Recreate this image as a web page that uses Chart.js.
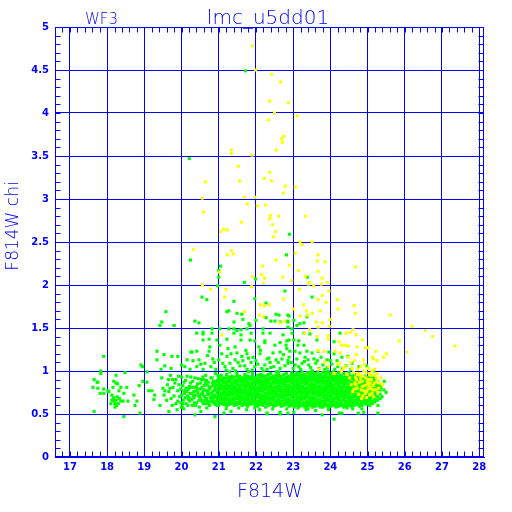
<!DOCTYPE html>
<html><head><meta charset="utf-8">
<script src="https://cdn.jsdelivr.net/npm/chart.js@4.4.0/dist/chart.umd.min.js"></script>
<style>html,body{margin:0;padding:0;background:#fff;}canvas{display:block;}</style>
</head><body>
<canvas id="c" width="512" height="512"></canvas>
<script>
// ---------- texts ----------
const titleText = "lmc_u5dd01";
const chipText = "WF3";
const xTitle = "F814W";
const yTitle = "F814W chi";

// ---------- ticks ----------
const xTicks = [17,18,19,20,21,22,23,24,25,26,27,28];
const xTickLabels = ["17","18","19","20","21","22","23","24","25","26","27","28"];
const yTicks = [0,0.5,1,1.5,2,2.5,3,3.5,4,4.5,5];
const yTickLabels = ["0","0.5","1","1.5","2","2.5","3","3.5","4","4.5","5"];

// ---------- data: dense green band, columns (x) with y values in hundredths ----------
const greenCoreX = [21.00,21.07,21.14,21.21,21.28,21.35,21.42,21.49,21.56,21.63,21.70,21.77,21.84,21.91,21.98,
22.05,22.12,22.19,22.26,22.33,22.40,22.47,22.54,22.61,22.68,22.75,22.82,22.89,22.96,
23.03,23.10,23.17,23.24,23.31,23.38,23.45,23.52,23.59,23.66,23.73,23.80,23.87,23.94,24.01,24.08,24.15,24.22,24.29,24.36,24.43,24.50,
24.57,24.64,24.71,24.78,24.85,24.92,24.99,25.06,25.13,25.20,25.27,25.34];
const greenCoreY = [
"60 63 67 70 73 77 80 83 86 90 93","62 65 68 71 74 78 81 84 88 91 95","61 64 67 70 73 76 79 82 86 89 92",
"59 62 66 69 72 75 79 82 85 88 92 96","61 64 67 71 74 77 80 83 87 90 93","62 65 68 72 75 78 81 84 87 91 94",
"60 63 66 69 73 76 79 82 86 89 93","61 64 68 71 74 77 80 84 87 90 94 97","62 65 68 71 75 78 81 84 88 91 94",
"60 63 67 70 73 76 79 83 86 89 92","61 64 67 70 74 77 80 83 87 90 93 96","59 62 66 69 72 75 78 82 85 88 91 94",
"61 64 67 71 74 77 80 83 86 90 93","62 65 68 71 74 78 81 84 87 91 94 97","60 63 66 70 73 76 79 82 86 89 92",
"59 62 65 69 72 75 78 81 85 88 91 95","61 64 67 70 73 77 80 83 86 89 93 96","60 63 66 69 72 76 79 82 85 88 92 95",
"58 62 65 68 71 74 78 81 84 87 90 94","60 63 67 70 73 76 79 82 86 89 92 96","61 64 67 70 74 77 80 83 86 90 93 97",
"59 62 66 69 72 75 78 81 85 88 91 94","60 63 66 70 73 76 79 82 86 89 92 95","61 64 67 70 73 77 80 83 86 89 93 96 99",
"59 62 65 69 72 75 78 81 85 88 91 94","60 63 67 70 73 76 79 83 86 89 92 96","61 64 67 71 74 77 80 83 87 90 93 97",
"59 62 65 68 72 75 78 81 84 88 91 94","60 63 66 70 73 76 79 82 86 89 92 95 98",
"58 61 64 67 71 74 77 80 83 87 90 93 96","60 63 66 69 72 75 79 82 85 88 91 95 98","59 62 65 68 71 75 78 81 84 87 91 94 97",
"60 63 67 70 73 76 79 82 86 89 92 95 99","58 61 64 68 71 74 77 80 84 87 90 93 96","59 62 65 69 72 75 78 81 85 88 91 94 98",
"60 63 66 69 73 76 79 82 85 89 92 95 98","58 61 64 67 70 74 77 80 83 86 90 93 96 100","59 62 65 68 72 75 78 81 84 88 91 94 97",
"60 63 66 70 73 76 79 82 86 89 92 95 99","58 61 64 67 71 74 77 80 83 87 90 93 96","59 62 65 69 72 75 78 81 85 88 91 94 98",
"60 63 66 69 72 76 79 82 85 88 92 95 98","58 61 65 68 71 74 77 81 84 87 90 93 97 100","59 62 65 68 72 75 78 81 84 88 91 94 97",
"60 63 66 69 73 76 79 82 85 89 92 95 99","58 61 64 68 71 74 77 80 84 87 90 93 96","59 62 66 69 72 75 78 82 85 88 91 94 98",
"60 63 66 70 73 76 79 82 86 89 92 95","58 61 65 68 71 74 77 81 84 87 90 93 97","59 62 65 69 72 75 78 81 85 88 91 94",
"60 63 66 69 73 76 79 82 85 89 92 95 98",
"59 62 65 68 71 75 78 81 84 87 91 94","60 63 66 70 73 76 79 82 86 89 92 95","61 64 67 70 73 77 80 83 86 89 93 96",
"59 62 66 69 72 75 78 82 85 88 91 94","60 63 66 69 73 76 79 82 85 89 92","62 65 68 71 74 78 81 84 87 90 94",
"61 64 67 70 74 77 80 83 86 90 93","63 66 69 72 76 79 82 85 88 92","62 65 69 72 75 78 81 85 88 91",
"64 67 71 74 77 80 84 87 90","66 70 75 79 83 88","68 73 78 84"];

// ---------- data: scattered green stars [mag, chi] ----------
const greenSparse = [
[17.91,1.17],[17.83,1.00],[17.83,0.97],[18.24,0.95],[18.48,0.98],[18.91,1.07],[18.95,1.05],[19.34,1.23],[19.34,1.13],[19.53,1.19],
[19.74,1.17],[19.90,1.17],[20.00,1.07],[19.55,1.06],[19.45,1.02],[19.72,1.03],[19.07,0.99],[18.96,0.88],[19.07,0.87],[17.65,0.90],
[17.75,0.87],[17.62,0.81],[17.75,0.80],[17.91,0.79],[17.81,0.74],[17.91,0.74],[18.02,0.77],[18.05,0.76],[18.18,0.88],[18.24,0.86],
[18.28,0.85],[18.16,0.81],[18.37,0.81],[18.53,0.81],[18.32,0.77],[18.45,0.74],[18.13,0.72],[18.16,0.67],[18.24,0.66],[18.37,0.65],
[18.43,0.65],[18.56,0.65],[18.21,0.62],[18.10,0.62],[18.21,0.58],[18.72,0.72],[18.80,0.65],[18.75,0.60],[17.65,0.53],[18.45,0.47],
[18.88,0.51],[18.86,0.83],[19.12,0.77],[19.20,0.77],[19.26,0.67],[19.28,0.72],[19.42,0.60],[19.47,0.92],[19.50,0.80],[19.55,0.77],
[19.53,0.72],[19.66,0.76],[19.69,0.80],[19.77,0.81],[19.82,0.86],[19.80,0.71],[19.90,0.77],[19.98,0.79],[20.00,0.72],[19.90,0.65],
[19.98,0.63],[19.66,0.53],[19.88,0.55],[20.00,0.58],[20.00,0.93],[19.85,0.90],[19.76,0.90],[17.73,0.87],[19.58,1.69],[19.47,1.57],
[19.80,1.53],[19.42,1.53],[18.18,0.69],[18.27,0.70],[18.20,0.64],[18.30,0.62],[18.13,0.66],[18.25,0.60],[18.33,0.68],
[19.62,0.84],[19.72,0.68],[19.85,0.62],[19.93,0.84],[19.95,0.70],[19.60,0.66],[19.75,0.60],[19.92,0.94],[19.70,0.95],[19.65,0.90],
// left part of band
[20.02,0.58],[20.05,0.66],[20.08,0.74],[20.03,0.83],[20.11,0.89],[20.13,0.62],[20.16,0.71],[20.19,0.79],[20.15,0.94],[20.22,0.65],
[20.24,0.86],[20.27,0.74],[20.29,0.60],[20.32,0.81],[20.34,0.69],[20.36,0.92],[20.39,0.77],[20.41,0.63],[20.43,0.85],[20.46,0.71],
[20.48,0.58],[20.50,0.79],[20.52,0.67],[20.54,0.90],[20.57,0.74],[20.59,0.62],[20.61,0.83],[20.63,0.70],[20.65,0.95],[20.68,0.77],
[20.70,0.65],[20.72,0.87],[20.74,0.73],[20.76,0.60],[20.78,0.81],[20.80,0.69],[20.82,0.92],[20.84,0.76],[20.86,0.64],[20.88,0.85],
[20.90,0.72],[20.92,0.61],[20.94,0.79],[20.96,0.67],[20.97,0.89],[20.06,0.77],[20.20,0.69],[20.26,0.81],[20.35,0.63],[20.44,0.75],
[20.47,0.66],[20.55,0.81],[20.60,0.71],[20.67,0.68],[20.69,0.84],[20.75,0.79],[20.77,0.69],[20.83,0.66],[20.85,0.83],[20.89,0.78],
[20.93,0.70],[20.95,0.84],[20.58,0.77],[20.66,0.62],[20.71,0.76],[20.81,0.74],[20.87,0.69],[20.91,0.88],[20.64,0.86],[20.53,0.73],
[20.40,0.82],[20.31,0.71],[20.18,0.67],[20.12,0.80],
[20.04,0.62],[20.07,0.87],[20.09,0.69],[20.14,0.76],[20.17,0.60],[20.21,0.82],[20.23,0.74],[20.25,0.93],[20.28,0.67],[20.30,0.88],
[20.33,0.76],[20.37,0.72],[20.38,0.60],[20.42,0.79],[20.45,0.91],[20.49,0.70],[20.51,0.86],[20.56,0.64],[20.57,0.93],[20.62,0.66],
[20.63,0.78],[20.67,0.89],[20.70,0.73],[20.73,0.62],[20.74,0.82],[20.78,0.64],[20.79,0.92],[20.81,0.66],[20.84,0.71],[20.86,0.88],
[20.88,0.62],[20.90,0.81],[20.93,0.65],[20.95,0.75],[20.97,0.60],[20.99,0.72],[20.98,0.95],[20.91,0.97],[20.83,0.86],[20.60,0.90],
// outliers
[20.21,3.47],[20.24,2.29],[21.72,4.49],[21.00,2.17],[21.05,2.22],[21.00,2.09],[21.69,2.03],[21.99,2.07],[20.97,1.99],[22.90,2.59],
[22.82,2.35],[23.38,2.09],[20.55,1.86],[21.41,1.81],[21.97,1.84],[22.27,1.79],[22.78,1.93],[23.51,1.86],[20.68,1.83],
// above the band
[22.89,1.64],[22.54,1.66],[22.40,1.58],[21.27,1.70],[21.49,1.67],[21.62,1.66],[21.41,1.57],[21.65,1.60],[21.81,1.55],[22.00,1.59],
[20.36,1.58],[20.47,1.56],[20.82,1.49],[21.03,1.49],[21.27,1.49],[21.41,1.49],[21.49,1.47],[21.60,1.48],[21.76,1.49],[22.19,1.49],
[22.51,1.58],[22.65,1.57],[22.86,1.58],[20.41,1.44],[20.58,1.45],[20.82,1.44],[21.41,1.44],[21.60,1.42],[21.87,1.44],[22.19,1.44],
[22.38,1.44],[22.73,1.42],[20.58,1.36],[20.74,1.37],[20.95,1.36],[21.22,1.37],[21.60,1.36],[21.84,1.36],[21.97,1.35],[22.24,1.35],
[22.51,1.30],[22.65,1.33],[22.83,1.35],[20.76,1.28],[21.03,1.30],[21.25,1.26],[21.44,1.28],[21.73,1.24],[22.08,1.28],[22.24,1.33],
[20.25,1.22],[20.41,1.23],[20.74,1.23],[21.22,1.17],[21.33,1.20],[21.49,1.21],[21.62,1.17],[21.76,1.20],[21.92,1.16],[22.11,1.20],
[22.30,1.14],[22.46,1.21],[22.65,1.22],[22.83,1.26],[20.15,1.13],[20.31,1.12],[20.47,1.13],[20.63,1.09],[20.84,1.14],[21.00,1.13],
[21.11,1.09],[21.30,1.09],[21.44,1.13],[21.65,1.12],[21.87,1.10],[22.05,1.08],[22.24,1.07],[22.38,1.10],[22.54,1.13],[22.70,1.14],
[22.86,1.12],[20.09,1.05],[20.23,1.02],[20.41,1.05],[20.58,1.02],[20.79,1.05],[20.92,1.02],[21.17,1.05],[21.38,1.03],[21.57,1.06],
[21.76,1.02],[21.97,1.05],[22.16,1.03],[22.30,1.02],[22.48,1.05],[22.65,1.03],[22.78,1.06],[20.28,1.22],[20.58,1.43],[21.22,1.69],
[21.84,1.53],[22.27,1.62],[22.62,1.65],[22.86,1.57],[22.97,1.44],[23.10,1.53],[23.37,1.63],
[22.86,1.65],[23.02,1.59],[23.18,1.55],[23.29,1.56],[22.86,1.51],[22.97,1.49],[24.26,1.44],[23.29,1.44],[23.45,1.43],[22.89,1.36],
[23.02,1.36],[23.15,1.35],[22.81,1.30],[23.13,1.30],[23.29,1.30],[23.64,1.36],[24.10,1.34],[22.91,1.23],[23.05,1.23],[23.18,1.21],
[23.37,1.23],[23.51,1.21],[23.67,1.23],[23.96,1.22],[24.10,1.20],[24.31,1.16],[24.47,1.17],[22.89,1.16],[23.10,1.14],[23.32,1.16],
[23.56,1.14],[23.75,1.16],[23.91,1.13],[24.18,1.12],[24.58,1.09],[24.77,1.05],[24.98,1.06],[22.86,1.09],[23.05,1.07],[23.24,1.09],
[23.42,1.07],[23.61,1.09],[23.80,1.07],[24.04,1.08],[24.20,1.05],[24.42,1.06],[25.17,1.00],[23.00,1.03],[23.20,1.02],[23.47,1.04],
[23.70,1.03],[23.92,1.04],[24.12,1.02],[24.33,1.03],[24.55,1.02],[21.30,0.99],[21.80,0.99],[22.20,1.00],[22.55,0.99],
[20.52,1.08],[20.70,1.18],[20.88,1.10],[21.08,1.20],[21.20,1.01],[21.52,1.10],[21.70,1.06],[21.80,1.15],[22.00,1.12],[22.12,1.24],
[22.40,1.04],[22.60,1.10],[22.74,1.19],[22.95,1.10],[23.15,1.05],[23.30,1.11],[23.50,1.00],[23.65,1.12],[23.85,1.02],[24.00,1.12],
[21.45,1.00],[21.90,1.01],[22.35,1.15],[23.40,1.13],
// below / right edge of the band
[25.17,0.93],[25.36,0.81],[25.44,0.78],[25.39,0.70],[25.15,0.70],[25.28,0.60],[25.06,0.60],[24.90,0.52],[24.31,0.51],[23.80,0.58],
[23.40,0.56],[23.13,0.57],[24.10,0.44],[24.85,0.56],[20.90,0.47],[21.14,0.51],[20.36,0.49],[20.52,0.53],[21.97,0.57],[22.30,0.51],
[22.65,0.52],[22.83,0.56],[21.33,0.53],[21.54,0.57],[20.06,0.56],[20.68,0.57],[22.86,0.51],[21.75,0.55],[22.10,0.55],[23.60,0.54],
[24.60,0.56],[21.20,0.56],[22.45,0.56],[23.95,0.55],[24.45,0.57],[22.30,0.50],[22.65,0.50],[23.02,0.52],[23.35,0.55],[23.78,0.49],
[24.24,0.51],[24.75,0.51],[25.28,0.51],[25.45,0.88],[25.50,0.75]];

// ---------- data: yellow stars [mag, chi] ----------
const yellowPts = [
[21.91,4.78],[21.99,4.50],[22.42,4.45],[22.66,4.36],[22.37,4.14],[22.87,4.12],[22.50,4.00],[22.34,3.92],[23.11,3.97],[22.74,3.73],
[22.69,3.70],[22.71,3.66],[22.55,3.57],[21.34,3.57],[21.34,3.53],[21.90,3.51],[21.53,3.38],[20.64,3.20],[22.37,3.31],[22.23,3.24],
[22.42,3.21],[21.56,3.21],[22.79,3.15],[23.06,3.14],[22.74,3.07],[21.69,3.02],[21.98,3.02],[20.56,3.01],[21.77,2.94],[22.04,2.92],
[22.26,2.93],[20.59,2.85],[22.39,2.81],[22.61,2.80],[22.37,2.77],[23.33,2.80],[22.45,2.70],[21.61,2.73],[21.13,2.65],[21.23,2.64],
[21.05,2.62],[22.53,2.62],[22.47,2.56],[20.32,2.41],[21.34,2.40],[21.23,2.35],[21.39,2.36],[22.53,2.29],[22.18,2.22],[21.02,2.15],
[21.91,2.10],[22.15,2.12],[22.23,2.08],[22.20,2.02],[21.88,1.98],[20.56,2.00],[20.78,1.95],[21.20,1.95],
[23.19,2.50],[23.24,2.47],[23.51,2.50],[23.06,2.37],[23.67,2.35],[23.65,2.28],[23.86,2.27],[22.90,2.23],[24.67,2.21],[23.14,2.17],
[23.67,2.16],[22.72,2.09],[23.33,2.10],[23.78,2.08],[22.96,2.05],[23.44,2.03],[23.92,2.03],[23.41,2.01],[23.76,2.01],[23.55,1.99],
[23.17,1.95],[21.16,1.86],[21.69,1.69],[22.12,1.77],[22.23,1.76],[22.36,1.77],[22.09,1.65],[22.20,1.63],[22.74,1.84],[22.63,1.56],
[22.77,1.58],[21.08,1.42],[23.96,1.93],[23.78,1.88],[23.28,1.77],[23.67,1.83],[23.89,1.80],[24.19,1.83],[23.36,1.70],[23.52,1.67],
[23.73,1.70],[23.00,1.72],[23.19,1.64],[23.38,1.65],[24.00,1.60],[24.21,1.72],[24.64,1.76],[24.67,1.67],[25.61,1.65],[23.62,1.57],
[23.78,1.56],[23.67,1.51],[23.97,1.52],[23.44,1.48],[23.31,1.44],[24.53,1.45],[24.61,1.48],[24.42,1.44],[24.69,1.42],[23.94,1.41],
[23.64,1.40],[23.94,1.37],[24.24,1.34],[24.30,1.30],[24.40,1.30],[24.48,1.29],[24.72,1.28],[24.94,1.27],[24.86,1.36],[25.01,1.27],
[25.22,1.23],[25.16,1.14],[25.43,1.16],[25.51,1.20],[23.67,1.24],[23.83,1.23],[24.13,1.23],[24.27,1.21],[24.70,1.19],[24.89,1.13],
[25.13,1.16],[25.26,1.12],[24.24,1.09],[24.35,1.03],[24.48,1.16],[26.20,1.52],[26.55,1.47],[26.75,1.40],[27.35,1.29],[25.85,1.35],
[26.05,1.22],
[24.62,0.98],[24.68,0.93],[24.74,1.02],[24.80,0.95],[24.85,0.88],[24.90,1.00],[24.95,0.92],[25.00,0.85],[25.05,0.97],[25.10,0.90],
[25.15,0.83],[25.20,0.95],[25.25,0.88],[25.30,0.80],[24.66,0.86],[24.72,0.80],[24.78,0.87],[24.83,0.78],[24.88,0.94],[24.93,0.83],
[24.98,0.76],[25.03,0.90],[25.08,0.80],[25.12,0.74],[25.18,0.86],[25.22,0.78],[24.76,0.73],[24.87,0.71],[24.97,0.69],[25.06,0.72],
[25.16,0.70],[24.70,0.90],[24.82,1.05],[24.92,1.08],[25.02,1.03],[25.12,1.00],[24.58,1.03],[24.64,0.79],[24.77,0.97],[24.86,0.82],
[24.96,0.98],[25.01,0.79],[25.10,0.95],[25.24,0.92],[25.32,0.86],[25.28,0.75],[24.52,0.92],[24.56,0.84],[24.60,0.76],[24.91,0.77],
[25.04,0.83],[25.14,0.78],[24.81,0.91],[25.19,1.02],[24.69,0.84],[24.73,0.96],[24.99,0.88],[25.07,0.86],[24.94,0.74],[25.26,0.97],
[25.36,0.92],[25.40,0.84],[24.84,0.68],[24.45,0.96],[24.40,1.05],[24.30,1.00],[24.20,1.08],[24.10,0.97],[23.95,1.05],[23.85,1.10],
[23.70,1.02],[24.55,1.10],[24.65,1.12]];

// ---------- build datasets ----------
const greenData = [];
greenCoreX.forEach((x, i) => greenCoreY[i].split(' ').forEach(c => greenData.push({x: x, y: Number(c) / 100})));
greenSparse.forEach(p => greenData.push({x: p[0], y: p[1]}));
const yellowData = yellowPts.map(p => ({x: p[0], y: p[1]}));

const BLUE = '#0000ff';
const X_MIN = 16.6, X_MAX = 28.13;

const decor = {
  id: 'decor',
  afterDraw(chart) {
    const {ctx, chartArea: a, scales: {x, y}} = chart;
    ctx.save();
    ctx.strokeStyle = BLUE; ctx.lineWidth = 1;
    const L = Math.round(a.left) + 0.5, R = Math.round(a.right) - 0.5;
    const T = Math.round(a.top) + 0.5, B = Math.round(a.bottom) - 0.5;
    ctx.strokeRect(L, T, R - L, B - T);
    ctx.beginPath();
    for (let i = 1; i * 0.2 + X_MIN <= 28.05; i++) {
      const px = Math.round(x.getPixelForValue(X_MIN + i * 0.2)) + 0.5;
      ctx.moveTo(px, B); ctx.lineTo(px, B - 5);
      ctx.moveTo(px, T); ctx.lineTo(px, T + 5);
    }
    for (let i = 1; i < 50; i++) {
      const py = Math.round(y.getPixelForValue(i / 10)) + 0.5;
      ctx.moveTo(L, py); ctx.lineTo(L + 5, py);
      ctx.moveTo(R, py); ctx.lineTo(R - 5, py);
    }
    ctx.stroke();
    ctx.fillStyle = BLUE;
    ctx.textBaseline = 'alphabetic';
    ctx.font = '200 20px "DejaVu Sans"';
    ctx.textAlign = 'center';
    ctx.fillText(titleText, 268, 24);
    ctx.font = '200 15px "DejaVu Sans"';
    ctx.textAlign = 'left';
    ctx.fillText(chipText, 85, 24);
    ctx.font = '200 19px "DejaVu Sans"';
    ctx.textAlign = 'center';
    ctx.fillText(xTitle, 270, 497);
    ctx.save();
    ctx.translate(18, 226);
    ctx.rotate(-Math.PI / 2);
    ctx.font = '200 17px "DejaVu Sans"';
    ctx.fillText(yTitle, 0, 0);
    ctx.restore();
    ctx.restore();
  }
};

const tickFont = {family: '"DejaVu Sans"', size: 10, weight: 'bold'};
const R_PT = 2.2;

new Chart(document.getElementById('c'), {
  type: 'scatter',
  data: {
    datasets: [
      {label: 'yellow', data: yellowData, backgroundColor: '#ffff00', pointStyle: 'rect', pointRadius: R_PT, pointBorderWidth: 0, pointHoverRadius: R_PT},
      {label: 'green', data: greenData, backgroundColor: '#00ff00', pointStyle: 'rect', pointRadius: R_PT, pointBorderWidth: 0, pointHoverRadius: R_PT}
    ]
  },
  options: {
    responsive: false,
    animation: false,
    events: [],
    layout: {padding: {left: 0, right: 28, top: 27, bottom: 0}},
    plugins: {legend: {display: false}, tooltip: {enabled: false}, title: {display: false}},
    scales: {
      x: {
        type: 'linear', min: X_MIN, max: X_MAX, z: 1,
        afterBuildTicks: s => { s.ticks = xTicks.map(v => ({value: v})); },
        afterFit: s => { s.height = 55; },
        grid: {color: BLUE, lineWidth: 1, drawTicks: false},
        border: {display: true, color: BLUE, width: 1},
        ticks: {color: BLUE, font: tickFont, padding: 4, maxRotation: 0, autoSkip: false,
          callback: v => { const i = xTicks.indexOf(v); return i >= 0 ? xTickLabels[i] : ''; }}
      },
      y: {
        type: 'linear', min: 0, max: 5, z: 1,
        afterBuildTicks: s => { s.ticks = yTicks.map(v => ({value: v})); },
        afterFit: s => { s.width = 55; },
        grid: {color: BLUE, lineWidth: 1, drawTicks: false},
        border: {display: true, color: BLUE, width: 1},
        ticks: {color: BLUE, font: tickFont, padding: 6, autoSkip: false,
          callback: v => { const i = yTicks.indexOf(v); return i >= 0 ? yTickLabels[i] : ''; }}
      }
    }
  },
  plugins: [decor]
});
</script>
</body></html>
